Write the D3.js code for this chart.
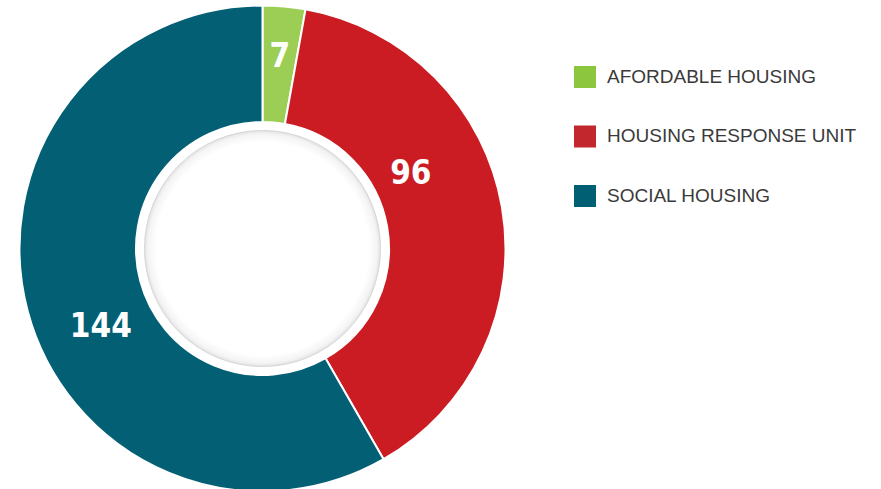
<!DOCTYPE html>
<html><head><meta charset="utf-8">
<script src="https://cdn.jsdelivr.net/npm/d3@7"></script>
<style>body{margin:0;background:#fff;}svg{display:block;}</style>
</head><body>
<script>
const categories = ["AFORDABLE HOUSING", "HOUSING RESPONSE UNIT", "SOCIAL HOUSING"];
const values = [7, 96, 144];
const sliceColors = ["#9ccd54", "#cb1c23", "#025f74"];
const legendColors = ["#8cc63f", "#c1272d", "#005f73"];
// label placement tweaks (radius, angle fraction within slice)
const labelRadius = [194, 167, 179];
const labelFrac = [0.5, 0.375, 0.45];

const W = 881, H = 489;
const cx = 262.5, cy = 248.5, R = 243, r0 = 126.5, rIn = 118;

const svg = d3.select("body").append("svg").attr("width", W).attr("height", H);
const defs = svg.append("defs");
const grad = defs.append("radialGradient").attr("id", "hole");
grad.append("stop").attr("offset", "0.9").attr("stop-color", "#ffffff");
grad.append("stop").attr("offset", "0.97").attr("stop-color", "#f4f4f4");
grad.append("stop").attr("offset", "1").attr("stop-color", "#e2e2e2");

const g = svg.append("g").attr("transform", `translate(${cx},${cy})`);
const pie = d3.pie().sort(null).value(d => d)(values);
const arc = d3.arc().innerRadius(r0).outerRadius(R);

g.selectAll("path.slice").data(pie).join("path")
  .attr("class", "slice")
  .attr("d", arc)
  .attr("fill", (d, i) => sliceColors[i])
  .attr("stroke", "#fff").attr("stroke-width", 2).attr("stroke-linejoin", "round");

g.append("circle").attr("r", rIn).attr("fill", "url(#hole)")
  .attr("stroke", "#d6d6d6").attr("stroke-width", 1);

g.selectAll("text.lbl").data(pie).join("text")
  .attr("class", "lbl")
  .attr("x", (d, i) => { const a = d.startAngle + (d.endAngle - d.startAngle) * labelFrac[i]; return Math.sin(a) * labelRadius[i]; })
  .attr("y", (d, i) => { const a = d.startAngle + (d.endAngle - d.startAngle) * labelFrac[i]; return -Math.cos(a) * labelRadius[i]; })
  .attr("text-anchor", "middle").attr("dy", "0.36em")
  .attr("fill", "#fff")
  .style("font-family", "'DejaVu Sans Condensed', 'DejaVu Sans', sans-serif")
  .style("font-weight", "bold").style("font-size", "33px")
  .text(d => d.data);

const legend = svg.append("g").attr("transform", "translate(574,66)");
const li = legend.selectAll("g").data(categories).join("g")
  .attr("transform", (d, i) => `translate(0,${i * 59.5})`);
li.append("rect").attr("width", 22).attr("height", 22).attr("fill", (d, i) => legendColors[i]);
li.append("text").attr("x", 33).attr("y", 10).attr("dy", "0.35em")
  .attr("fill", "#3a3a3a")
  .style("font-family", "'Liberation Sans', Arial, sans-serif").style("font-size", "19px")
  .text(d => d);
</script>
</body></html>
